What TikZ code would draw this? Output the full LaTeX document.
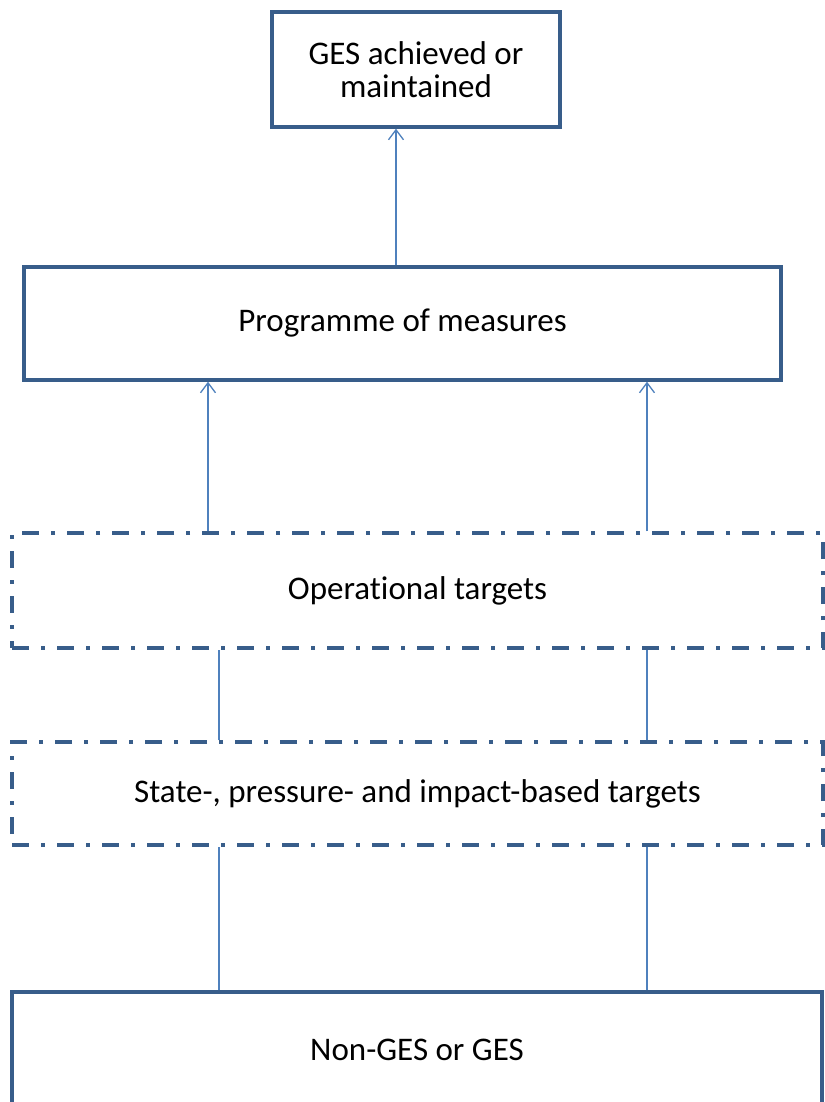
\documentclass[tikz,border=0pt]{standalone}
\usepackage{fontspec}
\setmainfont{Carlito}[Ligatures=NoCommon]
\usepackage{xcolor}
\usepackage{tikz}
\usetikzlibrary{arrows.meta}

\definecolor{boxblue}{HTML}{385D8A}
\definecolor{linkblue}{HTML}{4F81BD}

\begin{document}
\begin{tikzpicture}[
  x=1pt, y=-1pt,
  box/.style={draw=boxblue, line width=3.4pt, fill=white,
              align=center, font=\fontsize{33}{33}\selectfont, inner sep=0pt},
  target/.style={box, dash pattern=on 17pt off 12pt on 4pt off 12pt},
  link/.style={draw=linkblue, line width=1.3pt},
  >={Straight Barb[length=10pt,width=15pt,line width=1.3pt]}
]
  \useasboundingbox (0,0) rectangle (824,1102);
  \node[box, minimum width=288pt, minimum height=115pt]    (ges)    at (416,   69.5) {GES achieved or\\maintained};
  \node[box, minimum width=757pt, minimum height=113pt]    (prog)   at (402.5, 323.5) {Programme of measures};
  \node[target, minimum width=811pt, minimum height=115pt] (optg)   at (417.5, 590.5) {Operational targets};
  \node[target, minimum width=811pt, minimum height=103pt] (spit)   at (417.5, 793.5) {State-, pressure- and impact-based targets};
  \node[box, minimum width=810pt, minimum height=116pt]    (nonges) at (417,   1050) {Non-GES or GES};
  \draw[link, ->] ([xshift=-6.5pt]prog.north)   -- ([xshift=-20pt]ges.south);
  \draw[link, ->] ([xshift=-209.5pt]optg.north) -- ([xshift=-194.5pt]prog.south);
  \draw[link, ->] ([xshift=229.5pt]optg.north)  -- ([xshift=244.5pt]prog.south);
  \draw[link] ([xshift=-198.5pt]spit.north)     -- ([xshift=-198.5pt]optg.south);
  \draw[link] ([xshift=229.5pt]spit.north)      -- ([xshift=229.5pt]optg.south);
  \draw[link] ([xshift=-198pt]nonges.north)     -- ([xshift=-198.5pt]spit.south);
  \draw[link] ([xshift=230pt]nonges.north)      -- ([xshift=229.5pt]spit.south);
\end{tikzpicture}
\end{document}
